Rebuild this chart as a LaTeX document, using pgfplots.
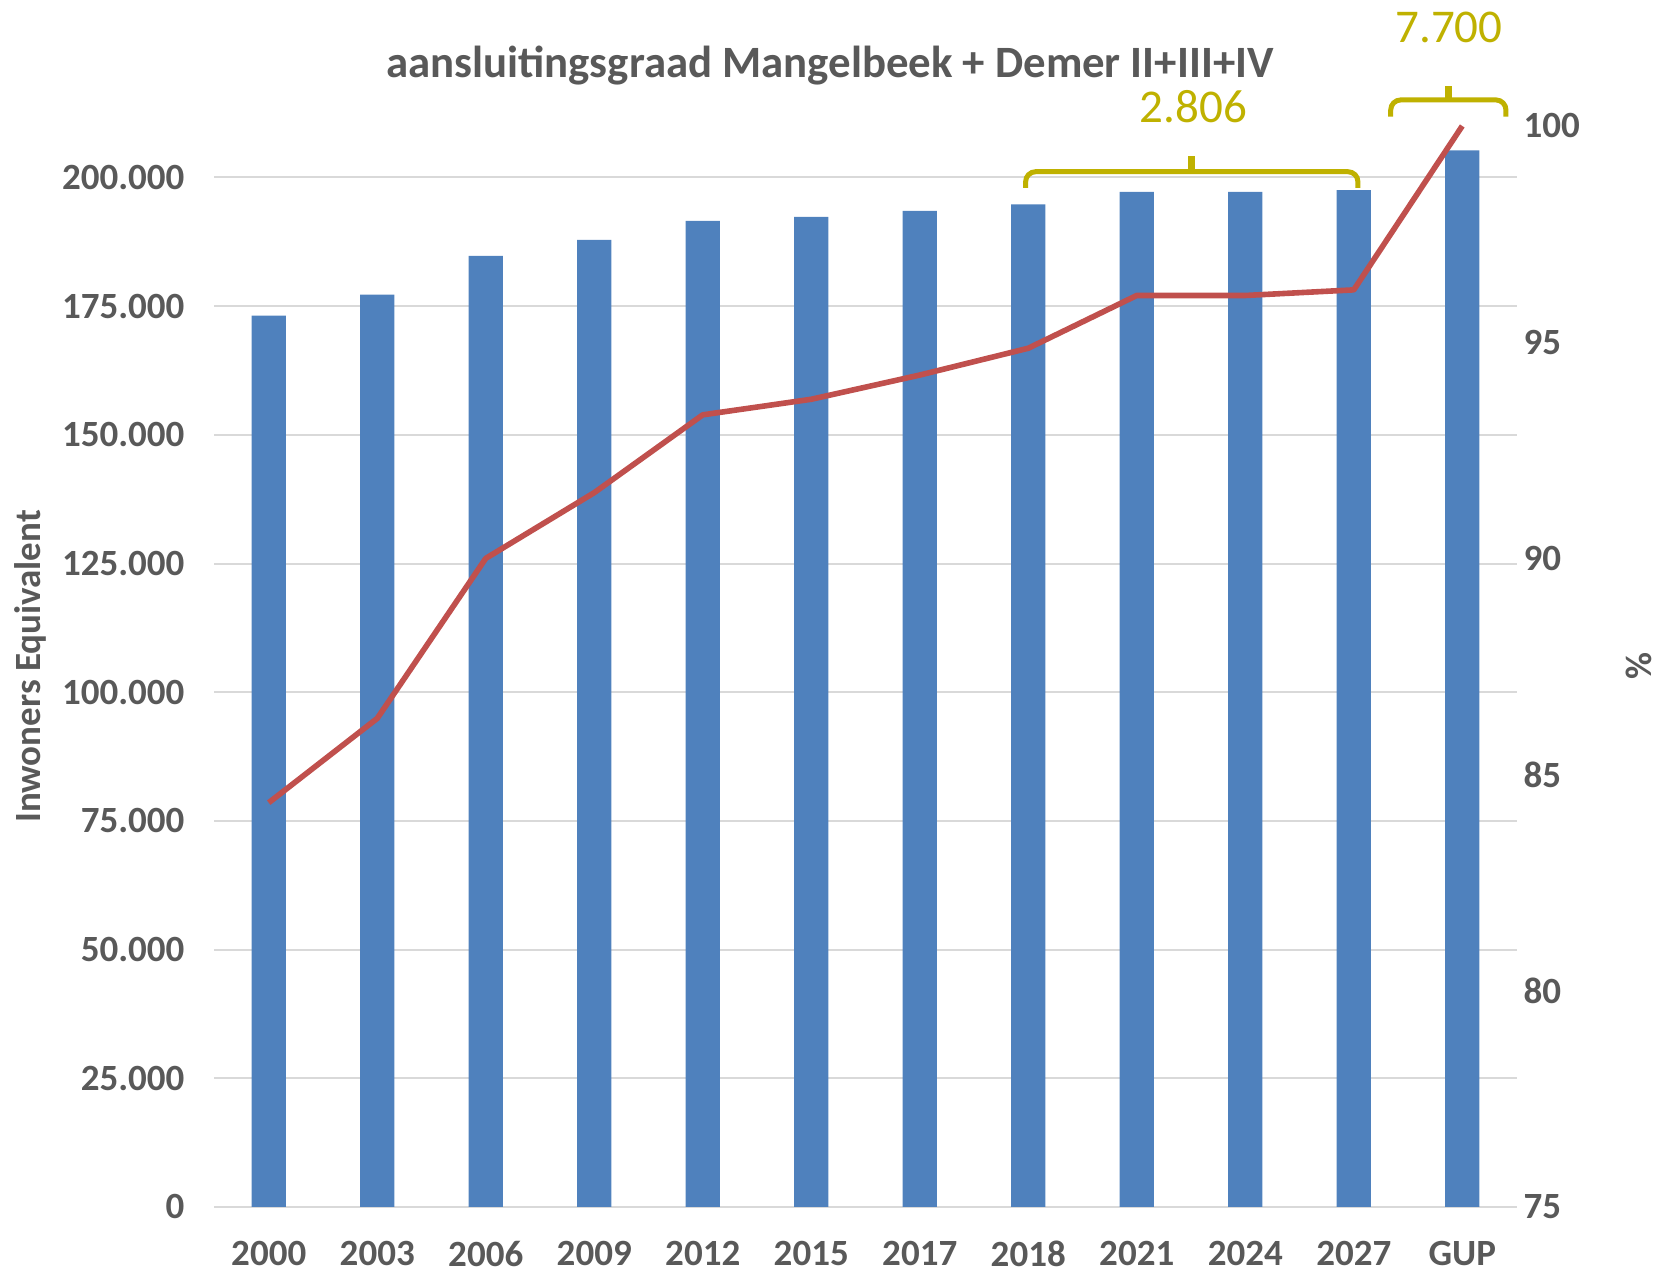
\documentclass[border=0pt]{standalone}
\usepackage{fontspec}
\setmainfont{Carlito}
\usepackage{pgfplots}
\pgfplotsset{compat=1.18}
\definecolor{barblue}{HTML}{4F81BD}
\definecolor{linered}{HTML}{C0504D}
\definecolor{braceyel}{HTML}{BFB100}
\definecolor{txtgrey}{HTML}{595959}
\definecolor{gridgrey}{HTML}{D9D9D9}
\newcommand\tickfont{\fontsize{18.5}{22}\selectfont\bfseries}
\begin{document}
\begin{tikzpicture}
\begin{axis}[
  at={(0,0)}, anchor=south west,
  scale only axis, width=651pt, height=540.5pt,
  xmin=-0.5, xmax=11.5, ymin=0, ymax=210000,
  xtick={0,...,11},
  xticklabels={2000,2003,2006,2009,2012,2015,2017,2018,2021,2024,2027,GUP},
  ytick={0,25000,50000,75000,100000,125000,150000,175000,200000},
  scaled y ticks=false,
  /pgf/number format/assume math mode=true,
  yticklabel style={/pgf/number format/fixed, /pgf/number format/1000 sep={.}, xshift=-11.5pt},
  xticklabel style={inner sep=0pt, yshift=-17pt},
  tick label style={font=\tickfont, text=txtgrey},
  ymajorgrids, major grid style={gridgrey, line width=1pt},
  axis x line*=bottom, axis y line*=left,
  x axis line style={gridgrey, line width=1pt, -},
  y axis line style={draw=none},
  major tick length=0pt,
  ylabel={Inwoners Equivalent},
  ylabel style={at={(axis description cs:-0.1417,0.5)}, anchor=center, font=\tickfont, text=txtgrey},
  clip=false,
]
\addplot[ybar, bar width=0.316, fill=barblue, draw=none] coordinates {
 (0,173150) (1,177240) (2,184770) (3,187880) (4,191580) (5,192350)
 (6,193520) (7,194750) (8,197220) (9,197220) (10,197550) (11,205250)};
% braces
\draw[braceyel, line width=2.5pt, rounded corners=5pt]
  (rel axis cs:0.6230,0.9427) -- (rel axis cs:0.6230,0.9577) -- (rel axis cs:0.8782,0.9577) -- (rel axis cs:0.8782,0.9427);
\draw[braceyel, line width=3.5pt] (rel axis cs:0.7506,0.9577) -- (rel axis cs:0.7506,0.9723);
\draw[braceyel, line width=2.5pt, rounded corners=5pt]
  (rel axis cs:0.9034,1.0086) -- (rel axis cs:0.9034,1.0241) -- (rel axis cs:0.9919,1.0241) -- (rel axis cs:0.9919,1.0086);
\draw[braceyel, line width=3.5pt] (rel axis cs:0.9476,1.0241) -- (rel axis cs:0.9476,1.0370);
\node[text=braceyel, font=\fontsize{23.5}{28}\selectfont, inner sep=0pt] at (rel axis cs:0.7519,1.0175) {2.806};
\node[text=braceyel, font=\fontsize{23.5}{28}\selectfont, inner sep=0pt] at (rel axis cs:0.9482,1.0914) {7.700};
\node[text=txtgrey, font=\fontsize{22.4}{26}\selectfont\bfseries, inner sep=0pt] at (rel axis cs:0.4727,1.0560) {aansluitingsgraad Mangelbeek + Demer II+III+IV};
\end{axis}
\begin{axis}[
  at={(0,0)}, anchor=south west,
  scale only axis, width=651pt, height=540.5pt,
  xmin=-0.5, xmax=11.5, ymin=75, ymax=100,
  axis x line=none, axis y line*=right,
  y axis line style={draw=none},
  ytick={75,80,85,90,95,100},
  /pgf/number format/assume math mode=true,
  tick label style={font=\tickfont, text=txtgrey},
  major tick length=0pt,
  ylabel={\%},
  ylabel style={at={(axis description cs:1.094,0.5)}, anchor=center, rotate=0, font=\tickfont, text=txtgrey},
  clip=false,
]
\addplot[linered, line width=2.8pt, line join=round] coordinates {
 (0,84.35) (1,86.30) (2,90.00) (3,91.52) (4,93.32) (5,93.68)
 (6,94.24) (7,94.86) (8,96.08) (9,96.08) (10,96.21) (11,100)};
\end{axis}
\pgfresetboundingbox
\useasboundingbox (-107.25pt,-33pt) rectangle (728.25pt,603.5pt);
\end{tikzpicture}
\end{document}
